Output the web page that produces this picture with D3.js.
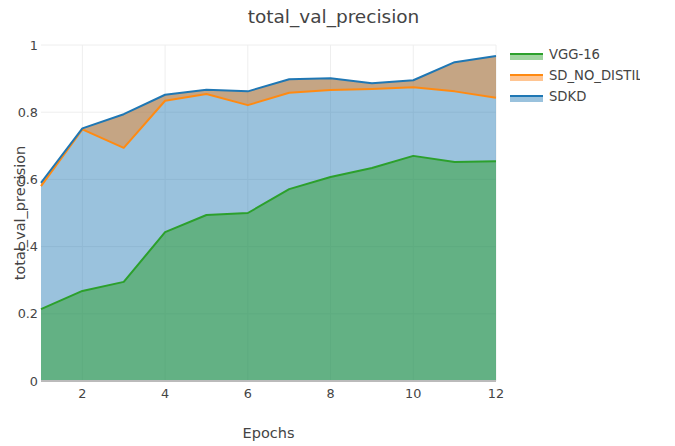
<!DOCTYPE html>
<html><head><meta charset="utf-8">
<script src="https://cdn.jsdelivr.net/npm/d3@7"></script>
<style>body{margin:0;background:#fff}svg{display:block}</style>
</head><body>
<script>
const epochs = [1,2,3,4,5,6,7,8,9,10,11,12];
const vgg16 = [0.214,0.268,0.295,0.443,0.494,0.500,0.571,0.607,0.634,0.670,0.652,0.654];
const sdNoDistil = [0.580,0.749,0.694,0.834,0.854,0.821,0.858,0.866,0.869,0.874,0.862,0.843];
const sdkd = [0.590,0.752,0.794,0.852,0.867,0.862,0.898,0.901,0.886,0.895,0.949,0.967];
const xTicks = [2,4,6,8,10,12];
const yTicks = [0,0.2,0.4,0.6,0.8,1];
const seriesNames = ["VGG-16","SD_NO_DISTIL","SDKD"];
const colors = ["#2ca02c","#ff8a12","#1f77b4"];

const W=675,H=446, L=41,R=496,T=45,B=381;
const font = "'DejaVu Sans', Verdana, sans-serif";
const svg = d3.select("body").append("svg").attr("width",W).attr("height",H);
const x = d3.scaleLinear().domain([1,12]).range([L,R]);
const y = d3.scaleLinear().domain([0,1]).range([B,T]);

// grid
svg.append("g").selectAll("line").data(yTicks.slice(1)).join("line")
  .attr("x1",L).attr("x2",R).attr("y1",d=>y(d)).attr("y2",d=>y(d)).attr("stroke","#eee");
svg.append("g").selectAll("line").data(xTicks).join("line")
  .attr("x1",d=>x(d)).attr("x2",d=>x(d)).attr("y1",T).attr("y2",B).attr("stroke","#eee");

const data = epochs.map((e,i)=>({e, g:vgg16[i], o:sdNoDistil[i], b:sdkd[i]}));
const areaZero = key => d3.area().x(d=>x(d.e)).y0(y(0)).y1(d=>y(d[key]));
svg.append("path").datum(data).attr("d",areaZero("b")).attr("fill","#1f77b4").attr("fill-opacity",0.45);
svg.append("path").datum(data).attr("d",d3.area().x(d=>x(d.e)).y0(d=>y(d.o)).y1(d=>y(d.b)))
  .attr("fill","#ff7f0e").attr("fill-opacity",0.43);
svg.append("path").datum(data).attr("d",areaZero("g")).attr("fill","#2ca02c").attr("fill-opacity",0.5);

// zero line
svg.append("line").attr("x1",L).attr("x2",R).attr("y1",y(0)).attr("y2",y(0)).attr("stroke","#bbb").attr("stroke-width",2);

const lineOf = key => d3.line().x(d=>x(d.e)).y(d=>y(d[key]));
[["g",0],["o",1],["b",2]].forEach(([k,i])=>{
  svg.append("path").datum(data).attr("d",lineOf(k)).attr("fill","none")
    .attr("stroke",colors[i]).attr("stroke-width",2).attr("stroke-linejoin","round");
});

// tick labels
svg.append("g").selectAll("text").data(yTicks).join("text")
  .attr("x",L-3).attr("y",d=>y(d)+4.5).attr("text-anchor","end")
  .attr("font-family",font).attr("font-size",12.8).attr("fill","#444")
  .text(d=>d3.format("~g")(d));
svg.append("g").selectAll("text").data(xTicks).join("text")
  .attr("x",d=>x(d)).attr("y",B+17).attr("text-anchor","middle")
  .attr("font-family",font).attr("font-size",12.8).attr("fill","#444")
  .text(d=>d);

svg.append("text").attr("x",W/2-4).attr("y",23).attr("text-anchor","middle")
  .attr("font-family",font).attr("font-size",18.5).attr("fill","#444").text("total_val_precision");
svg.append("text").attr("x",(L+R)/2).attr("y",438).attr("text-anchor","middle")
  .attr("font-family",font).attr("font-size",14.5).attr("fill","#444").text("Epochs");
svg.append("text").attr("transform",`translate(25,${(T+B)/2}) rotate(-90)`).attr("text-anchor","middle")
  .attr("font-family",font).attr("font-size",14.5).attr("fill","#444").text("total_val_precision");

// legend
svg.append("clipPath").attr("id","lc").append("rect").attr("x",505).attr("y",40).attr("width",135).attr("height",80);
const lg = svg.append("g").attr("clip-path","url(#lc)");
const fills = ["#2ca02c","#ff7f0e","#1f77b4"];
seriesNames.forEach((n,i)=>{
  const yy = 54 + i*21;
  lg.append("rect").attr("x",510).attr("y",yy).attr("width",33).attr("height",6)
    .attr("fill",fills[i]).attr("fill-opacity",0.45);
  lg.append("line").attr("x1",510).attr("x2",543).attr("y1",yy).attr("y2",yy)
    .attr("stroke",colors[i]).attr("stroke-width",2);
  lg.append("text").attr("x",549).attr("y",yy+4.5).attr("font-family",font).attr("font-size",13.2)
    .attr("fill","#444").text(n);
});
</script>
</body></html>
